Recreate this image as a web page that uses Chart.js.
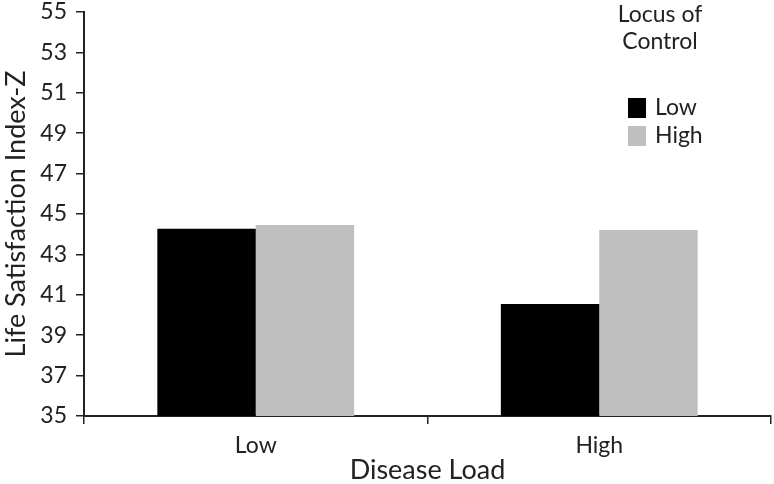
<!DOCTYPE html>
<html>
<head>
<meta charset="utf-8">
<script src="https://cdn.jsdelivr.net/npm/chart.js@4/dist/chart.umd.min.js"></script>
<style>
html,body{margin:0;padding:0;background:#fff;}
#wrap{width:774px;height:484px;position:relative;}
</style>
</head>
<body>
<div id="wrap"><canvas id="c" width="774" height="484"></canvas></div>
<script>
const categories = ["Low", "High"];
const lowLocus = [44.27, 40.54];
const highLocus = [44.46, 44.21];
const seriesNames = ["Low", "High"];
const legendTitle = ["Locus of", "Control"];
const yTicks = [35, 37, 39, 41, 43, 45, 47, 49, 51, 53, 55];

const FONT = "Lato, 'Open Sans', sans-serif";
const AXIS = "#222";

const legendPlugin = {
  id: 'customLegend',
  afterDraw(chart) {
    const ctx = chart.ctx;
    ctx.save();
    ctx.fillStyle = "#222";
    ctx.font = "23px " + FONT;
    ctx.textAlign = "center";
    ctx.textBaseline = "alphabetic";
    legendTitle.forEach((t, i) => ctx.fillText(t, 660, 22 + i * 27));
    chart.data.datasets.forEach((ds, i) => {
      const y = 98 + i * 28;
      ctx.fillStyle = ds.backgroundColor;
      ctx.fillRect(628, y, 18, 20);
      ctx.fillStyle = "#222";
      ctx.textAlign = "left";
      ctx.fillText(ds.label, 655, y + 17);
    });
    ctx.restore();
  }
};

new Chart(document.getElementById('c'), {
  type: 'bar',
  data: {
    labels: categories,
    datasets: [
      { label: seriesNames[0], data: lowLocus, backgroundColor: "#000000", borderWidth: 0 },
      { label: seriesNames[1], data: highLocus, backgroundColor: "#bfbfbf", borderWidth: 0 }
    ]
  },
  options: {
    responsive: false,
    animation: false,
    devicePixelRatio: 1,
    layout: { padding: { top: 12, right: 3, left: 0, bottom: 0 } },
    plugins: { legend: { display: false }, tooltip: { enabled: false } },
    datasets: { bar: { categoryPercentage: 0.573, barPercentage: 1.0 } },
    scales: {
      x: {
        afterFit(s) { s.height = 68; s.paddingLeft = 0; s.paddingRight = 0; },
        grid: { offset: true, drawOnChartArea: false, drawTicks: true, tickLength: 8, color: AXIS, lineWidth: 1.5 },
        border: { color: AXIS, width: 2 },
        ticks: { color: "#222", font: { family: FONT, size: 23 }, padding: 8 },
        title: { display: true, text: "Disease Load", color: "#222", font: { family: FONT, size: 27 }, padding: { top: 0, bottom: -2 } }
      },
      y: {
        min: 35, max: 55,
        afterFit(s) { s.width = 84; s.paddingTop = 0; s.paddingBottom = 0; },
        afterBuildTicks(s) { s.ticks = yTicks.map(v => ({ value: v })); },
        grid: { drawOnChartArea: false, drawTicks: true, tickLength: 8, color: AXIS, lineWidth: 1.5 },
        border: { color: AXIS, width: 2 },
        ticks: { color: "#222", font: { family: FONT, size: 23 }, padding: 9 },
        title: { display: true, text: "Life Satisfaction Index-Z", color: "#222", font: { family: FONT, size: 27 }, padding: { top: 0, bottom: 0 } }
      }
    }
  },
  plugins: [legendPlugin]
});
</script>
</body>
</html>
